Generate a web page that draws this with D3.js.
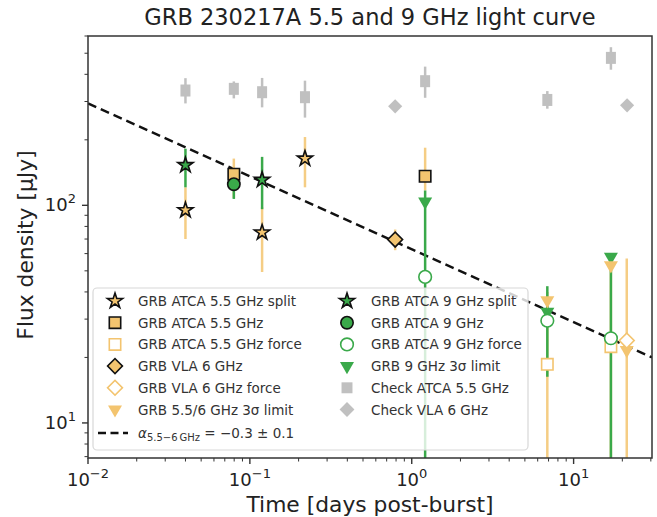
<!DOCTYPE html>
<html>
<head>
<meta charset="utf-8">
<script src="https://cdn.jsdelivr.net/npm/d3@7"></script>
<style>
  body { margin: 0; background: #fff; }
  text { font-family: "DejaVu Sans", sans-serif; fill: #222; }
</style>
</head>
<body>
<svg id="chart" width="657" height="517"></svg>
<script>
// check sources
const checkAtcaT = [0.040, 0.0796, 0.119, 0.219, 1.21, 6.88, 17.0];
const checkAtcaF = [337, 343, 331, 314, 372, 305, 476];
const checkAtcaLo = [294, 310, 282, 253, 312, 278, 420];
const checkAtcaHi = [384, 371, 385, 374, 434, 335, 533];
const checkVlaT = [0.79, 21.4];
const checkVlaF = [285, 288];

// GRB detections
const atca55SplitT = [0.040, 0.119, 0.219];
const atca55SplitF = [95, 75, 164];
const atca55SplitLo = [70, 49.4, 121];
const atca55SplitHi = [121, 98, 206];

const atca9SplitT = [0.040, 0.119];
const atca9SplitF = [153, 131];
const atca9SplitLo = [121, 96];
const atca9SplitHi = [182, 167];

const atca55T = [0.0796, 1.21];
const atca55F = [139, 136];
const atca55Lo = [108, 117];
const atca55Hi = [164, 184];

const atca9T = [0.0796];
const atca9F = [125];
const atca9Lo = [107];
const atca9Hi = [147];

const vla6T = [0.79];
const vla6F = [69.6];
const vla6Lo = [62.2];
const vla6Hi = [77.4];

// forced photometry (lower errors run off the axis)
const atca55ForceT = [6.88, 17.0];
const atca55ForceF = [18.6, 22.4];
const atca55ForceLo = [1, 1];
const atca55ForceHi = [40, 53];

const vla6ForceT = [21.3];
const vla6ForceF = [23.9];
const vla6ForceLo = [1];
const vla6ForceHi = [57];

const atca9ForceT = [1.21, 6.88, 17.0];
const atca9ForceF = [46.9, 29.5, 24.5];
const atca9ForceLo = [1, 16.3, 1];
const atca9ForceHi = [117, 42.5, 60];

// 3 sigma limits
const limit55T = [6.88, 17.0, 21.3];
const limit55F = [36.6, 53, 21.6];
const limit9T = [1.21, 6.88, 17.0];
const limit9F = [104, 32.4, 58];

// power law fit
const fitNorm = 294;    // flux at t = 0.01 d
const fitSlope = -0.335;

const xTicks = [0.01, 0.1, 1, 10];
const xTickExp = ["\u22122", "\u22121", "0", "1"];
const yTicks = [10, 100];
const yTickExp = ["1", "2"];

const orange = "#f3c46f";
const orangeBar = "#f5cd84";
const green = "#3aa94a";
const gray = "#c0c0c0";

const svg = d3.select("#chart");
const pL = 88, pR = 652, pT = 36, pB = 458;

const x = d3.scaleLog().domain([0.01, 30.5]).range([pL, pR]);
const y = d3.scaleLog().domain([6.9, 600]).range([pB, pT]);

svg.append("clipPath").attr("id", "clip")
  .append("rect").attr("x", pL).attr("y", pT)
  .attr("width", pR - pL).attr("height", pB - pT);

const plot = svg.append("g").attr("clip-path", "url(#clip)");

const zip = (t, f, lo, hi) => t.map((d, i) => ({ t: d, f: f[i], lo: lo ? lo[i] : null, hi: hi ? hi[i] : null }));

const errBars = (data, color, width) => {
  plot.append("g").selectAll("line").data(data).enter().append("line")
    .attr("x1", (d) => x(d.t)).attr("x2", (d) => x(d.t))
    .attr("y1", (d) => y(d.lo)).attr("y2", (d) => y(d.hi))
    .attr("stroke", color).attr("stroke-width", width || 2.5);
};

const markers = (data, symbol, size, fill, stroke, rot) => {
  plot.append("g").selectAll("path").data(data).enter().append("path")
    .attr("d", d3.symbol().type(symbol).size(size))
    .attr("transform", (d) => `translate(${x(d.t)},${y(d.f)}) rotate(${rot || 0})`)
    .attr("fill", fill)
    .attr("stroke", stroke || "none")
    .attr("stroke-width", 1.6);
};

// check sources
const checkAtca = zip(checkAtcaT, checkAtcaF, checkAtcaLo, checkAtcaHi);
errBars(checkAtca, gray, 2.5);
plot.append("g").selectAll("rect").data(checkAtca).enter().append("rect")
  .attr("x", (d) => x(d.t) - 5).attr("y", (d) => y(d.f) - 6)
  .attr("width", 10).attr("height", 12).attr("fill", gray);
markers(zip(checkVlaT, checkVlaF), d3.symbolSquare, 100, gray, null, 45);

// fit line
const fitT = x.domain();
plot.append("path")
  .datum(fitT)
  .attr("d", d3.line().x((d) => x(d)).y((d) => y(fitNorm * Math.pow(d / 0.01, fitSlope))))
  .attr("fill", "none").attr("stroke", "#111").attr("stroke-width", 2.4)
  .attr("stroke-dasharray", "9,5");

// error bars
const a55s = zip(atca55SplitT, atca55SplitF, atca55SplitLo, atca55SplitHi);
const a9s = zip(atca9SplitT, atca9SplitF, atca9SplitLo, atca9SplitHi);
const a55 = zip(atca55T, atca55F, atca55Lo, atca55Hi);
const a9 = zip(atca9T, atca9F, atca9Lo, atca9Hi);
const v6 = zip(vla6T, vla6F, vla6Lo, vla6Hi);
const a55f = zip(atca55ForceT, atca55ForceF, atca55ForceLo, atca55ForceHi);
const v6f = zip(vla6ForceT, vla6ForceF, vla6ForceLo, vla6ForceHi);
const a9f = zip(atca9ForceT, atca9ForceF, atca9ForceLo, atca9ForceHi);

errBars(a55s, orangeBar);
errBars(a55, orangeBar);
errBars(v6, orangeBar);
errBars(a55f, orangeBar);
errBars(v6f, orangeBar);
errBars(a9s, green);
errBars(a9, green);
errBars(a9f, green);

// markers
markers(zip(limit9T, limit9F), d3.symbolTriangle, 85, green, null, 180);
markers(zip(limit55T, limit55F), d3.symbolTriangle, 85, orange, null, 180);
markers(a55s, d3.symbolStar, 72, orange, "#111");
markers(a55, d3.symbolSquare, 130, orange, "#111");
markers(a55f, d3.symbolSquare, 130, "#fff", orange);
markers(v6, d3.symbolSquare, 110, orange, "#111", 45);
markers(v6f, d3.symbolSquare, 110, "#fff", orange, 45);
markers(a9s, d3.symbolStar, 72, green, "#111");
markers(a9, d3.symbolCircle, 120, green, "#111");
markers(a9f, d3.symbolCircle, 125, "#fff", green);

// frame
svg.append("rect").attr("x", pL).attr("y", pT)
  .attr("width", pR - pL).attr("height", pB - pT)
  .attr("fill", "none").attr("stroke", "#333").attr("stroke-width", 1.5);

// ticks
const minor = (lo, hi) => {
  const out = [];
  for (let e = Math.floor(Math.log10(lo)); e <= Math.ceil(Math.log10(hi)); e++) {
    for (let m = 2; m <= 9; m++) {
      const v = m * Math.pow(10, e);
      if (v >= lo && v <= hi) out.push(v);
    }
  }
  return out;
};

const axisX = svg.append("g");
axisX.selectAll("line.maj").data(xTicks).enter().append("line")
  .attr("x1", (d) => x(d)).attr("x2", (d) => x(d))
  .attr("y1", pB).attr("y2", pB + 6).attr("stroke", "#333").attr("stroke-width", 1.4);
axisX.selectAll("line.min").data(minor(0.01, 30.5)).enter().append("line")
  .attr("x1", (d) => x(d)).attr("x2", (d) => x(d))
  .attr("y1", pB).attr("y2", pB + 3.5).attr("stroke", "#333").attr("stroke-width", 1);
const xl = axisX.selectAll("text").data(xTicks).enter().append("text")
  .attr("x", (d) => x(d)).attr("y", 486).attr("text-anchor", "middle")
  .style("font-size", "18px");
xl.append("tspan").text("10");
xl.append("tspan").attr("dy", -8).style("font-size", "13px").text((d, i) => xTickExp[i]);

const axisY = svg.append("g");
axisY.selectAll("line.maj").data(yTicks).enter().append("line")
  .attr("x1", pL - 6).attr("x2", pL)
  .attr("y1", (d) => y(d)).attr("y2", (d) => y(d)).attr("stroke", "#333").attr("stroke-width", 1.4);
axisY.selectAll("line.min").data(minor(6.9, 600)).enter().append("line")
  .attr("x1", pL - 3.5).attr("x2", pL)
  .attr("y1", (d) => y(d)).attr("y2", (d) => y(d)).attr("stroke", "#333").attr("stroke-width", 1);
const yl = axisY.selectAll("text").data(yTicks).enter().append("text")
  .attr("x", 76).attr("y", (d) => y(d) + 6).attr("text-anchor", "end")
  .style("font-size", "18px");
yl.append("tspan").text("10");
yl.append("tspan").attr("dy", -8).style("font-size", "13px").text((d, i) => yTickExp[i]);

// labels
svg.append("text").attr("x", (pL + pR) / 2).attr("y", 25)
  .attr("text-anchor", "middle").style("font-size", "22.5px")
  .text("GRB 230217A 5.5 and 9 GHz light curve");
svg.append("text").attr("x", (pL + pR) / 2).attr("y", 512)
  .attr("text-anchor", "middle").style("font-size", "21.8px")
  .text("Time [days post-burst]");
svg.append("text").attr("transform", "translate(33,245) rotate(-90)")
  .attr("text-anchor", "middle").style("font-size", "21.8px")
  .text("Flux density [\u03bcJy]");

// legend
const legend = svg.append("g");
legend.append("rect").attr("x", 93).attr("y", 288).attr("width", 435).attr("height", 162)
  .attr("rx", 4).attr("fill", "rgba(255,255,255,0.8)").attr("stroke", "#d8d8d8").attr("stroke-width", 1.2);

const leftItems = [
  { label: "GRB ATCA 5.5 GHz split", sym: d3.symbolStar, size: 72, fill: orange, stroke: "#111", rot: 0 },
  { label: "GRB ATCA 5.5 GHz", sym: d3.symbolSquare, size: 130, fill: orange, stroke: "#111", rot: 0 },
  { label: "GRB ATCA 5.5 GHz force", sym: d3.symbolSquare, size: 130, fill: "#fff", stroke: orange, rot: 0 },
  { label: "GRB VLA 6 GHz", sym: d3.symbolSquare, size: 110, fill: orange, stroke: "#111", rot: 45 },
  { label: "GRB VLA 6 GHz force", sym: d3.symbolSquare, size: 110, fill: "#fff", stroke: orange, rot: 45 },
  { label: "GRB 5.5/6 GHz 3\u03c3 limit", sym: d3.symbolTriangle, size: 85, fill: orange, stroke: "none", rot: 180 },
];
const rightItems = [
  { label: "GRB ATCA 9 GHz split", sym: d3.symbolStar, size: 72, fill: green, stroke: "#111", rot: 0 },
  { label: "GRB ATCA 9 GHz", sym: d3.symbolCircle, size: 120, fill: green, stroke: "#111", rot: 0 },
  { label: "GRB ATCA 9 GHz force", sym: d3.symbolCircle, size: 125, fill: "#fff", stroke: green, rot: 0 },
  { label: "GRB 9 GHz 3\u03c3 limit", sym: d3.symbolTriangle, size: 85, fill: green, stroke: "none", rot: 180 },
  { label: "Check ATCA 5.5 GHz", sym: d3.symbolSquare, size: 120, fill: gray, stroke: "none", rot: 0 },
  { label: "Check VLA 6 GHz", sym: d3.symbolSquare, size: 110, fill: gray, stroke: "none", rot: 45 },
];

const drawItems = (items, mx, tx) => {
  items.forEach((it, i) => {
    const cy = 301 + i * 21.7;
    legend.append("path").attr("d", d3.symbol().type(it.sym).size(it.size))
      .attr("transform", `translate(${mx},${cy}) rotate(${it.rot})`)
      .attr("fill", it.fill).attr("stroke", it.stroke).attr("stroke-width", 1.6);
    legend.append("text").attr("x", tx).attr("y", cy + 5)
      .style("font-size", "13.5px").style("fill", "#333").text(it.label);
  });
};
drawItems(leftItems, 115, 138);
drawItems(rightItems, 347, 371);

legend.append("line").attr("x1", 98).attr("x2", 128).attr("y1", 433).attr("y2", 433)
  .attr("stroke", "#111").attr("stroke-width", 2.3).attr("stroke-dasharray", "8,4.5");
const fitLabel = legend.append("text").attr("x", 138).attr("y", 438)
  .style("font-size", "13.5px").style("fill", "#333");
fitLabel.append("tspan").style("font-style", "italic").text("\u03b1");
fitLabel.append("tspan").attr("dy", 3).style("font-size", "10px").text("5.5\u22126\u2009GHz");
fitLabel.append("tspan").attr("dy", -3).text(" = \u22120.3 \u00b1 0.1");
</script>
</body>
</html>
